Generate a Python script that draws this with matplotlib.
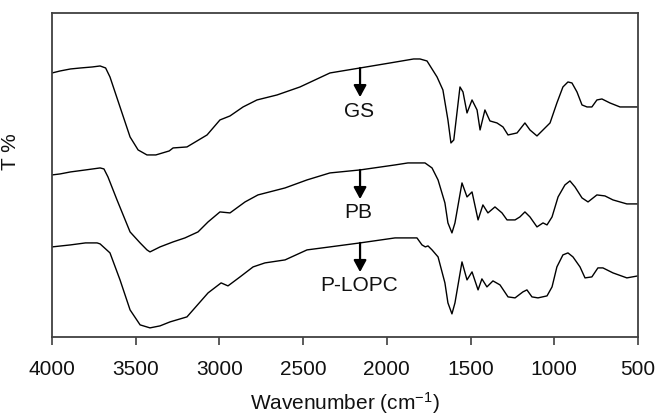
import matplotlib
matplotlib.use("Agg")
import matplotlib.pyplot as plt
import numpy as np

plt.rcParams["font.family"] = ["Liberation Sans", "DejaVu Sans"]
plt.rcParams["mathtext.fontset"] = "custom"
plt.rcParams["mathtext.rm"] = "Liberation Sans"
plt.rcParams["mathtext.it"] = "Liberation Sans:italic"

# spectra (wavenumber, transmittance in arbitrary units)
gs_wn = [4000, 3952, 3890, 3830, 3760, 3713, 3680, 3654, 3594, 3534, 3486, 3433, 3380, 3300, 3277,
         3194, 3074, 2997, 2937, 2859, 2776, 2656, 2519, 2340, 2160, 1981, 1840, 1802, 1760, 1700,
         1665, 1635, 1617, 1600, 1563, 1545, 1521, 1491, 1461, 1443, 1414, 1384, 1342, 1306, 1276,
         1222, 1175, 1145, 1103, 1067, 1025, 984, 948, 918, 894, 864, 834, 804, 775, 745, 715, 667,
         607, 500]
gs_t = [264, 266, 268, 269, 270, 271, 269, 260, 230, 200, 187, 182, 182, 186, 189,
        190, 202, 217, 221, 230, 237, 242, 250, 264, 269, 274, 278, 278, 276, 260,
        247, 217, 194, 197, 250, 245, 224, 237, 227, 207, 227, 216, 214, 210, 202,
        204, 214, 207, 201, 207, 214, 234, 250, 255, 254, 245, 232, 230, 230, 237, 238, 234,
        230, 230]

pb_wn = [4000, 3952, 3890, 3800, 3713, 3690, 3666, 3612, 3534, 3474, 3433, 3415, 3355, 3277, 3206,
         3128, 3068, 2997, 2937, 2847, 2770, 2608, 2477, 2340, 2160, 1951, 1874, 1772, 1730, 1694,
         1653, 1635, 1611, 1593, 1551, 1521, 1491, 1455, 1426, 1396, 1354, 1312, 1282, 1234, 1205,
         1175, 1145, 1103, 1067, 1043, 1013, 977, 936, 906, 876, 834, 798, 745, 697, 649, 566, 500]
pb_t = [162, 163, 165, 167, 169, 168, 160, 137, 105, 94, 87, 85, 90, 95, 99,
        105, 115, 125, 124, 135, 142, 149, 157, 164, 167, 172, 174, 174, 169, 157,
        134, 114, 104, 114, 154, 140, 145, 117, 132, 124, 130, 124, 117, 117, 120,
        125, 120, 110, 114, 112, 120, 140, 152, 156, 150, 139, 135, 142, 141, 137, 133, 133]

plopc_wn = [4000, 3890, 3800, 3731, 3713, 3654, 3594, 3534, 3474, 3415, 3355, 3295, 3194, 3068, 2990,
            2949, 2877, 2799, 2728, 2608, 2477, 2340, 2160, 1951, 1820, 1790, 1770, 1754, 1730, 1694,
            1653, 1635, 1611, 1593, 1551, 1521, 1491, 1455, 1432, 1402, 1366, 1324, 1276, 1234, 1187,
            1163, 1133, 1097, 1043, 1013, 984, 948, 918, 888, 846, 816, 775, 739, 709, 649, 566, 500]
plopc_t = [90, 92, 94, 94, 93, 84, 57, 27, 12, 9, 11, 15, 20, 44, 54,
           51, 60, 70, 74, 77, 87, 90, 94, 99, 99, 92, 90, 91, 87, 80,
           54, 34, 23, 34, 75, 57, 65, 47, 58, 50, 56, 52, 40, 39, 45,
           47, 40, 39, 41, 50, 70, 82, 84, 80, 70, 59, 60, 69, 69, 64, 59, 61]

series = [("GS", gs_wn, gs_t), ("PB", pb_wn, pb_t), ("P-LOPC", plopc_wn, plopc_t)]
marker_wn = 2160
x_ticks = [4000, 3500, 3000, 2500, 2000, 1500, 1000, 500]

fig = plt.figure(figsize=(6.59, 4.19), dpi=100)
ax = fig.add_axes([0.079, 0.196, 0.889, 0.773])

for name, wn, t in series:
    ax.plot(wn, t, color="black", linewidth=1.0)
    y_mark = np.interp(marker_wn, wn[::-1], t[::-1])
    ax.annotate("", xy=(marker_wn, y_mark), xytext=(0, -21), textcoords="offset points",
                arrowprops=dict(arrowstyle="<|-,head_width=0.38,head_length=0.7",
                                color="black", lw=1.6, shrinkA=0, shrinkB=0))
    ax.annotate(name, xy=(marker_wn, y_mark), xytext=(-1, -31), textcoords="offset points",
                ha="center", va="center", fontsize=15, color="#111111")

ax.set_xlim(4000, 500)
ax.set_ylim(0, 324)
ax.set_xticks(x_ticks)
ax.set_yticks([])
ax.tick_params(axis="x", direction="out", length=6, width=1.2, pad=11, labelsize=15,
               color="#404040", labelcolor="#111111")
for spine in ax.spines.values():
    spine.set_color("#404040")
    spine.set_linewidth(1.3)

ax.set_xlabel("Wavenumber (cm$^{-1}$)", fontsize=15, labelpad=8, color="#111111")
ax.set_ylabel("T %", fontsize=15, color="#111111")
ax.yaxis.set_label_coords(-0.055, 0.571)

fig.savefig("out.png", dpi=100)
